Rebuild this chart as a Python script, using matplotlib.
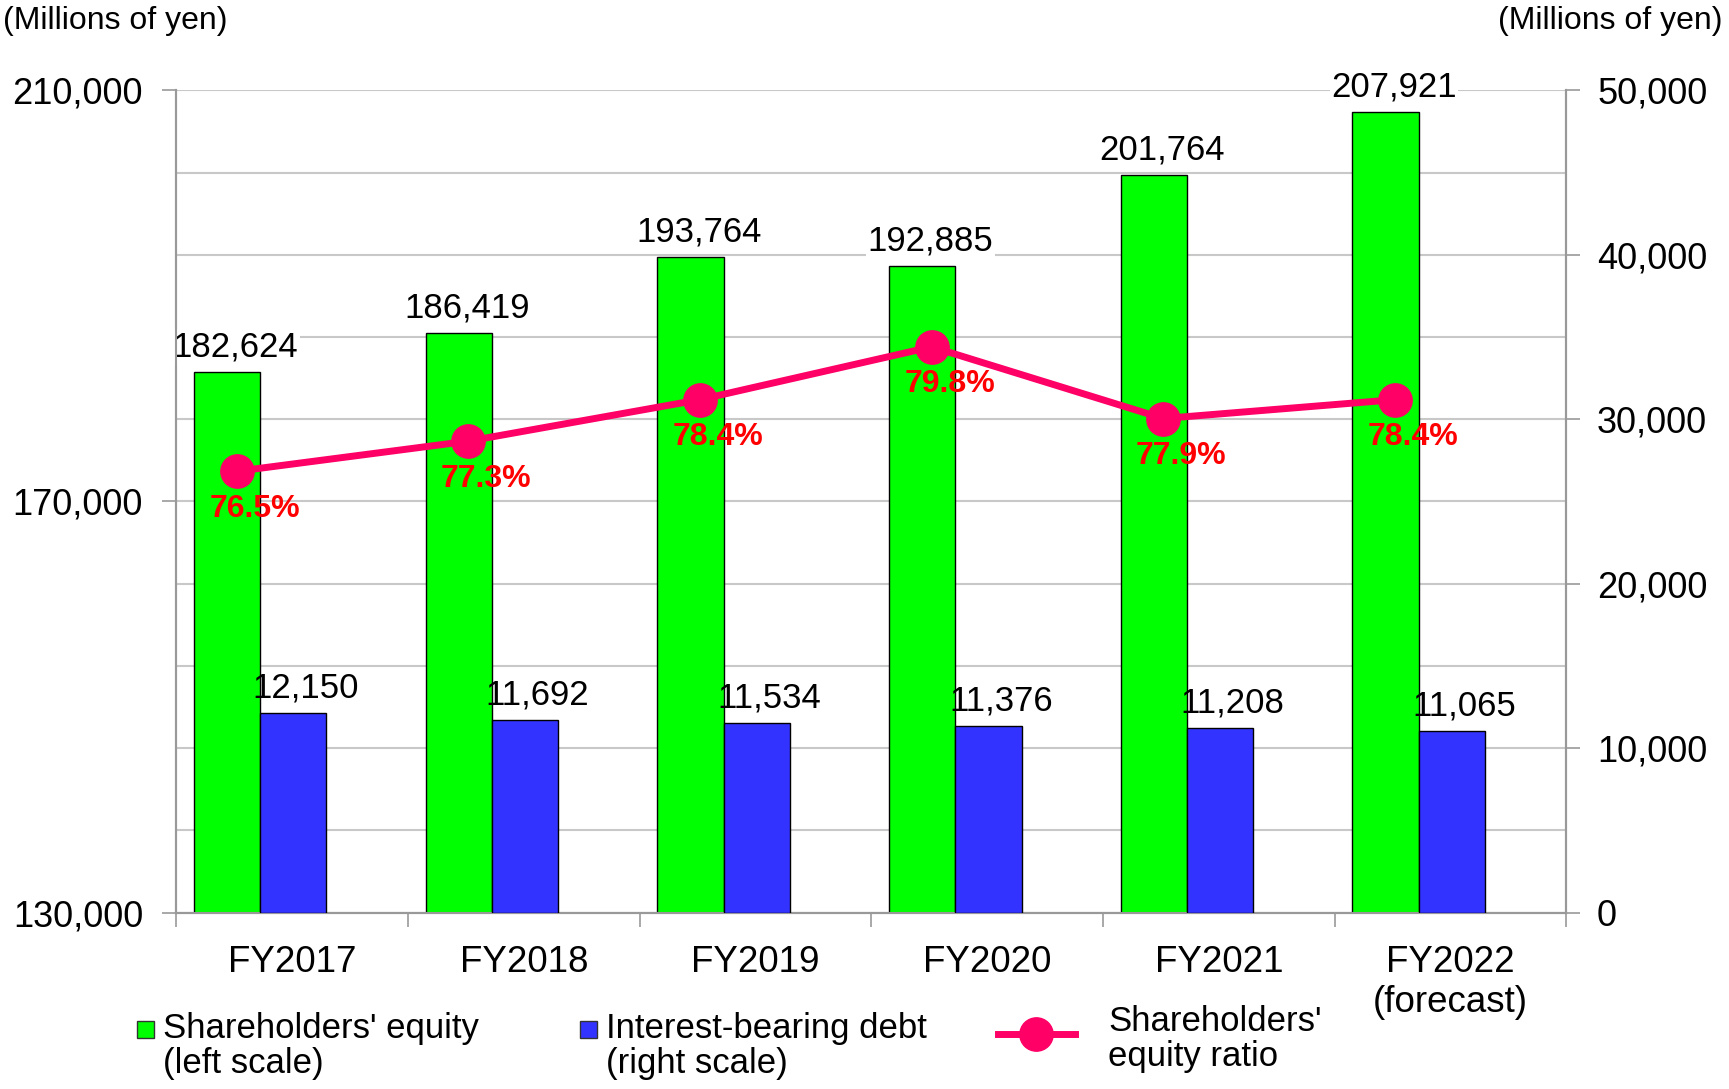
import matplotlib
matplotlib.use('Agg')
import matplotlib.pyplot as plt
from matplotlib.patches import Rectangle
from matplotlib.lines import Line2D
import numpy as np

plt.rcParams['font.family'] = ['Liberation Sans', 'DejaVu Sans']

years = ['FY2017', 'FY2018', 'FY2019', 'FY2020', 'FY2021', 'FY2022\n(forecast)']
equity = [182624, 186419, 193764, 192885, 201764, 207921]
debt = [12150, 11692, 11534, 11376, 11208, 11065]
ratio = [76.5, 77.3, 78.4, 79.8, 77.9, 78.4]

green = '#00ff00'
blue = '#3333ff'
pink = '#ff0066'
grid_c = '#c8c8c8'
spine_c = '#999999'

fig = plt.figure(figsize=(17.29, 10.89), dpi=100)
ax = fig.add_axes([0.102, 0.162, 0.804, 0.755])
ax2 = ax.twinx()
ax3 = ax.twinx()

x = np.arange(len(years))
w = 0.286
shift = -0.138  # the bar pair sits a bit left of the category centre
lshift = -0.24  # the ratio line sits over the green bars

ax.bar(x + shift - w / 2, equity, w, color=green, edgecolor='black', linewidth=1, zorder=3)
ax2.bar(x + shift + w / 2, debt, w, color=blue, edgecolor='black', linewidth=1, zorder=3)
ax3.plot(x + lshift, ratio, color=pink, lw=5, marker='o', markersize=24, zorder=5)

ax.set_xlim(-0.5, 5.5)
ax3.set_xlim(-0.5, 5.5)
ax.set_ylim(130000, 210000)
ax2.set_ylim(0, 50000)
ax3.set_ylim(64.8, 86.6)
ax3.axis('off')

# left axis
ax.set_yticks([130000, 170000, 210000])
ax.set_yticklabels(['{:,}'.format(v) for v in [130000, 170000, 210000]])
ax.set_yticks(np.arange(130000, 210001, 8000), minor=True)
ax.yaxis.grid(True, which='both', color=grid_c, lw=1.5, zorder=0)
ax.set_axisbelow(True)
ax.tick_params(axis='y', which='major', labelsize=26, length=10, width=1.2,
               color=spine_c, pad=14)
ax.tick_params(axis='y', which='minor', length=0)

# right axis
ax2.set_yticks(np.arange(0, 50001, 10000))
ax2.set_yticklabels(['{:,}'.format(v) for v in np.arange(0, 50001, 10000)])
ax2.tick_params(axis='y', labelsize=26, length=10, width=1.2, color=spine_c, pad=12)

# x axis
ax.set_xticks(x)
ax.set_xticklabels(years)
ax.set_xticks(np.arange(-0.5, 6, 1), minor=True)
ax.tick_params(axis='x', which='major', length=0, labelsize=26.5, pad=23)
ax.tick_params(axis='x', which='minor', length=10, width=1.2, color=spine_c)

for a in (ax, ax2):
    a.spines['top'].set_visible(False)
    for s in ('left', 'right', 'bottom'):
        a.spines[s].set_color(spine_c)
        a.spines[s].set_linewidth(1.5)

box = dict(facecolor='white', edgecolor='none', pad=1)
for i, v in enumerate(equity):
    ax.annotate('{:,}'.format(v), (x[i] + shift - w / 2, v), xytext=(6, 6),
                textcoords='offset points', ha='center', va='bottom',
                fontsize=25, bbox=box, zorder=6)
for i, v in enumerate(debt):
    ax2.annotate('{:,}'.format(v), (x[i] + shift + w / 2, v), xytext=(9, 6),
                 textcoords='offset points', ha='center', va='bottom',
                 fontsize=25, zorder=6)
for i, v in enumerate(ratio):
    ax3.annotate('{}%'.format(v), (x[i] + lshift, v), xytext=(13, -27),
                 textcoords='offset points', ha='center', va='center',
                 fontsize=23, fontweight='bold', color='#ff0000', zorder=7)

fig.text(0.002, 0.981, '(Millions of yen)', fontsize=23, ha='left', va='center')
fig.text(0.996, 0.981, '(Millions of yen)', fontsize=23, ha='right', va='center')

# legend at the bottom
W, H = 1729, 1089
fig.add_artist(Rectangle((137 / W, 1 - 1038 / H), 17 / W, 17 / H,
                         facecolor=green, edgecolor='#333333', lw=1))
fig.text(163 / W, 1 - 1046 / H, "Shareholders' equity\n(left scale)",
         fontsize=25, ha='left', va='center', linespacing=1.1)
fig.add_artist(Rectangle((580 / W, 1 - 1038 / H), 17 / W, 17 / H,
                         facecolor=blue, edgecolor='#333333', lw=1))
fig.text(606 / W, 1 - 1046 / H, "Interest-bearing debt\n(right scale)",
         fontsize=25, ha='left', va='center', linespacing=1.1)
lx = [998 / W, 1036 / W, 1075 / W]
ly = [1 - 1034 / H] * 3
fig.add_artist(Line2D(lx, ly, color=pink, lw=5, marker='o', markersize=24,
                      markevery=[1], transform=fig.transFigure))
fig.text(1108 / W, 1 - 1039 / H, "Shareholders'\nequity ratio",
         fontsize=25, ha='left', va='center', linespacing=1.1)

plt.savefig('out.png', dpi=100)
